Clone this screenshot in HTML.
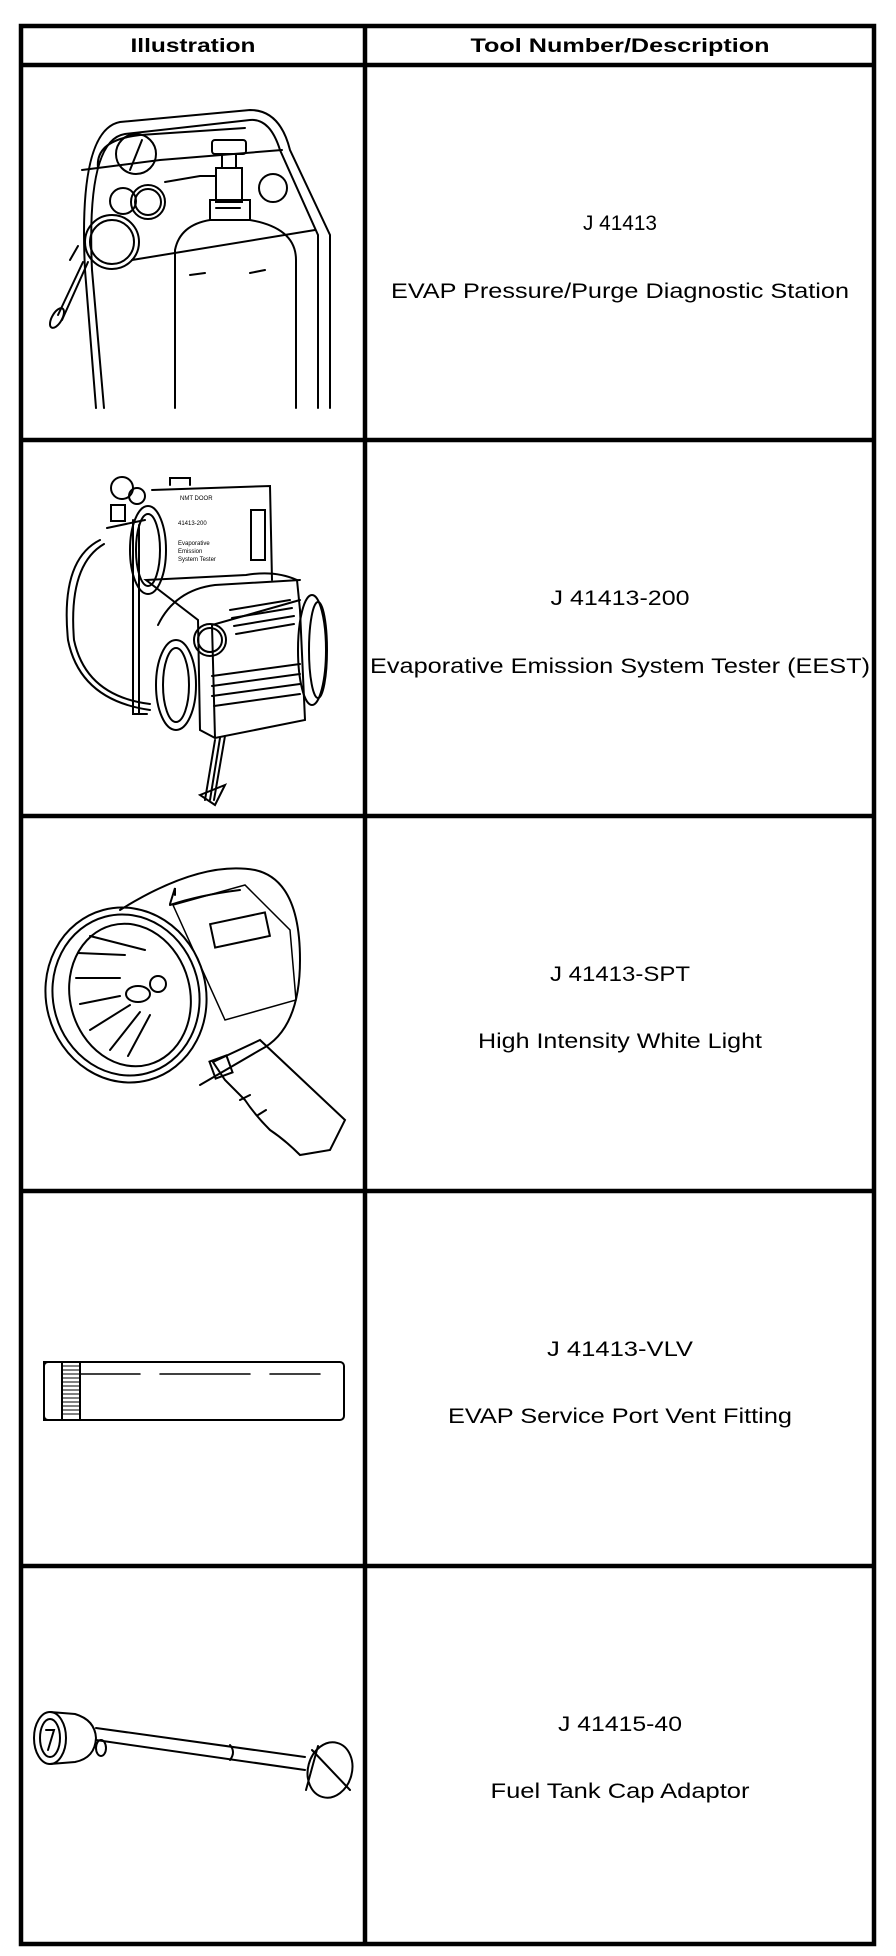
<!DOCTYPE html>
<html><head><meta charset="utf-8"><style>
html,body{margin:0;padding:0;background:#fff;}
svg{display:block;}
text{font-family:"Liberation Sans",Arial,sans-serif;fill:#000;}
</style></head><body>
<svg width="896" height="1956" viewBox="0 0 896 1956" xmlns="http://www.w3.org/2000/svg">
<rect x="0" y="0" width="896" height="1956" fill="#fff"/>
<g stroke="#000" stroke-width="4.5" fill="none">
<rect x="21" y="26" width="853" height="1918"/>
<line x1="365" y1="26" x2="365" y2="1944"/>
<line x1="21" y1="65" x2="874" y2="65"/>
<line x1="21" y1="440" x2="874" y2="440"/>
<line x1="21" y1="816" x2="874" y2="816"/>
<line x1="21" y1="1191" x2="874" y2="1191"/>
<line x1="21" y1="1566" x2="874" y2="1566"/>
</g>
<g font-size="19" font-weight="bold" text-anchor="middle" lengthAdjust="spacingAndGlyphs">
<text x="193" y="52" textLength="125" lengthAdjust="spacingAndGlyphs">Illustration</text>
<text x="620" y="52" textLength="299" lengthAdjust="spacingAndGlyphs">Tool Number/Description</text>
</g>
<g font-size="21" text-anchor="middle">
<text x="620" y="230" textLength="74" lengthAdjust="spacingAndGlyphs">J 41413</text>
<text x="620" y="298" textLength="458" lengthAdjust="spacingAndGlyphs">EVAP Pressure/Purge Diagnostic Station</text>
<text x="620" y="605" textLength="139" lengthAdjust="spacingAndGlyphs">J 41413-200</text>
<text x="620" y="673" textLength="500" lengthAdjust="spacingAndGlyphs">Evaporative Emission System Tester (EEST)</text>
<text x="620" y="981" textLength="140" lengthAdjust="spacingAndGlyphs">J 41413-SPT</text>
<text x="620" y="1048" textLength="284" lengthAdjust="spacingAndGlyphs">High Intensity White Light</text>
<text x="620" y="1356" textLength="146" lengthAdjust="spacingAndGlyphs">J 41413-VLV</text>
<text x="620" y="1423" textLength="344" lengthAdjust="spacingAndGlyphs">EVAP Service Port Vent Fitting</text>
<text x="620" y="1731" textLength="124" lengthAdjust="spacingAndGlyphs">J 41415-40</text>
<text x="620" y="1798" textLength="259" lengthAdjust="spacingAndGlyphs">Fuel Tank Cap Adaptor</text>
</g>
<g stroke="#000" stroke-width="2" fill="none" stroke-linecap="round">
<path d="M96 408 L85 270 Q78 130 120 122 L250 110 Q280 110 290 150 L330 235 L330 408"/>
<path d="M104 408 L92 270 Q86 140 125 134 L250 120 Q270 118 280 150 L318 235 L318 408"/>
<path d="M82 170 L160 160 M160 160 L282 150"/>
<path d="M98 168 Q95 140 140 135 L245 128"/>
<path d="M132 260 L315 230"/>
<path d="M175 408 L175 250 Q180 225 210 220 L250 220 Q296 228 296 260 L296 408"/>
<path d="M210 220 L210 200 L250 200 L250 220"/>
<path d="M216 208 L240 208"/>
<rect x="216" y="168" width="26" height="34"/>
<rect x="212" y="140" width="34" height="14" rx="3"/>
<path d="M222 154 L222 168 M236 154 L236 168"/>
<path d="M190 275 L205 273 M250 273 L265 270"/>
<circle cx="136" cy="154" r="20"/>
<path d="M130 170 L142 140"/>
<circle cx="148" cy="202" r="17"/>
<circle cx="148" cy="202" r="13"/>
<circle cx="123" cy="201" r="13"/>
<circle cx="273" cy="188" r="14"/>
<circle cx="112" cy="242" r="27"/>
<circle cx="112" cy="242" r="22"/>
<path d="M165 182 L200 176 L216 176"/>
<path d="M88 262 L62 320 M83 262 L58 315"/>
<ellipse cx="57" cy="318" rx="5" ry="11" transform="rotate(30 57 318)"/>
<path d="M78 246 L70 260"/>
<path d="M133 520 L133 714 L147 714"/>
<path d="M139 525 L139 714"/>
<path d="M152 490 L270 486 L272 580"/>
<rect x="251" y="510" width="14" height="50"/>
<path d="M170 485 L170 478 L190 478 L190 485"/>
<circle cx="122" cy="488" r="11"/>
<circle cx="137" cy="496" r="8"/>
<rect x="111" y="505" width="14" height="16"/>
<path d="M107 528 L145 520"/>
<path d="M100 540 Q60 560 68 640 Q80 700 150 710"/>
<path d="M104 544 Q68 565 74 640 Q86 696 150 704"/>
<ellipse cx="148" cy="550" rx="18" ry="44"/>
<ellipse cx="148" cy="550" rx="12" ry="36"/>
<path d="M146 580 L246 575 Q275 570 297 580 L300 610 L305 720 L215 738 L200 730 L198 620 Z"/>
<path d="M215 738 L212 625 L300 600"/>
<path d="M158 625 Q175 590 215 585 L300 580"/>
<circle cx="210" cy="640" r="16"/>
<circle cx="210" cy="640" r="12"/>
<path d="M230 610 L290 600 M232 618 L292 608 M234 626 L294 616 M236 634 L294 624"/>
<path d="M212 676 L300 664 M212 686 L300 674 M212 696 L300 684 M214 706 L300 694"/>
<ellipse cx="176" cy="685" rx="20" ry="45"/>
<ellipse cx="176" cy="685" rx="13" ry="37"/>
<ellipse cx="312" cy="650" rx="14" ry="55"/>
<ellipse cx="318" cy="650" rx="9" ry="48"/>
<path d="M215 740 L205 800 M220 738 L210 800 M225 736 L214 800"/>
<path d="M200 795 L225 785 L215 805 Z"/>
<g font-size="6"><text x="180" y="500" stroke="none">NMT DOOR</text><text x="178" y="525" stroke="none">41413-200</text><text x="178" y="545" stroke="none">Evaporative</text><text x="178" y="553" stroke="none">Emission</text><text x="178" y="561" stroke="none">System Tester</text></g>
<ellipse cx="126" cy="995" rx="80" ry="88" transform="rotate(-15 126 995)"/>
<ellipse cx="126" cy="995" rx="73" ry="81" transform="rotate(-15 126 995)"/>
<ellipse cx="130" cy="995" rx="60" ry="72" transform="rotate(-15 130 995)"/>
<path d="M120 910 Q200 860 255 870 Q300 880 300 960 Q300 1030 260 1050 L200 1085"/>
<path d="M170 905 Q200 895 240 890"/>
<path d="M170 904 L175 888 L175 895"/>
<path d="M173 905 L245 885 L290 930 L296 1000 L225 1020 Z" stroke-width="1.5"/>
<rect x="212" y="918" width="56" height="24" transform="rotate(-12 240 930)"/>
<ellipse cx="138" cy="994" rx="12" ry="8"/>
<circle cx="158" cy="984" r="8"/>
<path d="M78 953 L125 955 M76 978 L120 978 M80 1004 L120 996 M90 1030 L130 1005 M110 1050 L140 1012 M128 1056 L150 1015 M90 936 L145 950"/>
<path d="M213 1062 L260 1040 L345 1120 L330 1150 L300 1155 Q285 1140 270 1130 Q255 1115 245 1100 L225 1080 Z"/>
<rect x="212" y="1058" width="18" height="18" transform="rotate(-20 221 1067)"/>
<path d="M240 1100 L250 1095 M258 1115 L266 1110"/>
<rect x="44" y="1362" width="300" height="58" rx="4"/>
<rect x="44" y="1362" width="18" height="58"/>
<g stroke-width="1">
<path d="M62 1366 L80 1366 M62 1370 L80 1370 M62 1374 L80 1374 M62 1378 L80 1378 M62 1382 L80 1382 M62 1386 L80 1386 M62 1390 L80 1390 M62 1394 L80 1394 M62 1398 L80 1398 M62 1402 L80 1402 M62 1406 L80 1406 M62 1410 L80 1410 M62 1414 L80 1414"/>
</g>
<rect x="62" y="1362" width="18" height="58"/>
<path d="M80 1374 L140 1374 M160 1374 L250 1374 M270 1374 L320 1374" stroke-width="1.5"/>
<ellipse cx="50" cy="1738" rx="16" ry="26"/>
<ellipse cx="50" cy="1738" rx="10" ry="19"/>
<path d="M46 1730 L54 1730 L48 1750"/>
<path d="M50 1712 L75 1714 Q95 1720 96 1738 Q95 1758 75 1762 L50 1764"/>
<path d="M96 1728 L305 1757 M96 1740 L305 1770"/>
<ellipse cx="101" cy="1748" rx="5" ry="8"/>
<ellipse cx="330" cy="1770" rx="22" ry="28" transform="rotate(15 330 1770)"/>
<path d="M312 1750 L350 1790 M318 1746 L306 1790"/>
<path d="M230 1745 Q236 1752 230 1760"/>
</g>
</svg>
</body></html>
